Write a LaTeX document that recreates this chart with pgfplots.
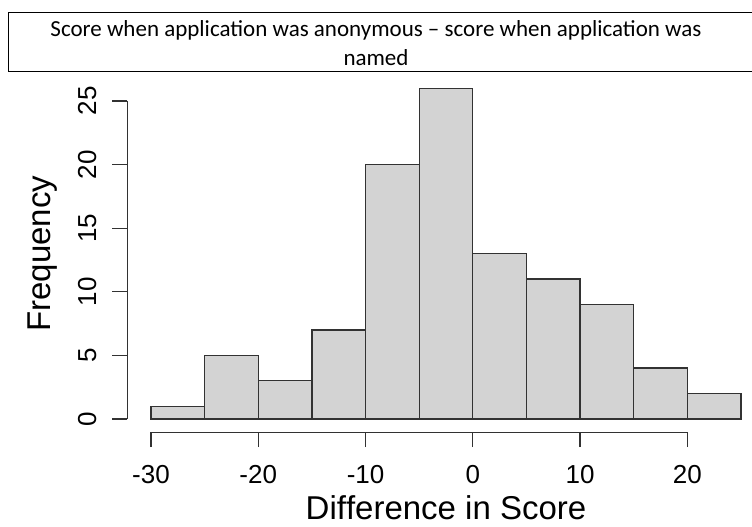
\documentclass[border=0pt]{standalone}
\usepackage{fontspec}
\setmainfont{Liberation Sans}
\newfontfamily\calibri{Carlito}
\usepackage{pgfplots}
\pgfplotsset{compat=1.18}
\definecolor{barfill}{RGB}{211,211,211}
\definecolor{linec}{RGB}{50,50,50}
\begin{document}
\begin{tikzpicture}[x=1pt,y=1pt]
\begin{axis}[
 at={(127.4pt,94.8pt)}, anchor=south west,
 width=637.2pt, height=357.2pt, scale only axis,
 xmin=-32.2, xmax=27.2, ymin=-1.04, ymax=27.04,
 axis x line*=bottom, axis y line*=left,
 axis line style={-, line width=1.3pt, linec},
 x axis line style={shorten <=23.6pt, shorten >=77.2pt},
 y axis line style={shorten <=13.2pt, shorten >=26pt},
 xtick={-30,-20,...,20}, ytick={0,5,...,25},
 tick align=outside, major tick length=15pt,
 tick style={line width=1.3pt, linec},
 /pgf/number format/assume math mode=true,
 ticklabel style={font=\fontsize{26}{31}\selectfont},
 xticklabel shift=15pt,
 yticklabel style={rotate=90, anchor=south},
 yticklabel shift=12.5pt,
 xlabel={Dif\kern0ptference in Score}, ylabel={Frequency},
 label style={font=\fontsize{33}{40}\selectfont},
 xlabel style={at={(axis description cs:0.5,0)}, anchor=base, yshift=-87pt, inner sep=0.5pt},
 ylabel style={at={(axis description cs:-0.1325,0.5)}, anchor=center},
 clip=false,
]
\addplot[ybar interval, fill=barfill, draw=linec, line width=1.3pt] coordinates {
(-30,1) (-25,5) (-20,3) (-15,7) (-10,20) (-5,26) (0,13) (5,11) (10,9) (15,4) (20,2) (25,0)
};
\end{axis}
\draw[line width=1pt, black] (760,514) -- (8,514) -- (8,455) -- (760,455);
\node[font=\calibri\fontsize{23}{28}\selectfont] at (376,497) {Score when application was anonymous – score when application was};
\node[font=\calibri\fontsize{23}{28}\selectfont] at (376,469) {named};
\pgfresetboundingbox
\path[use as bounding box] (0,0) rectangle (752,527);
\end{tikzpicture}
\end{document}
